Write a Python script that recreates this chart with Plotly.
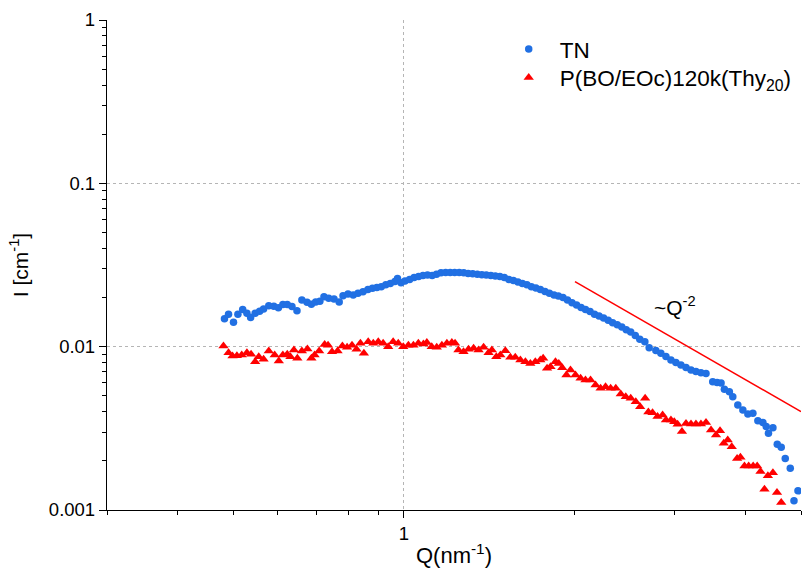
import math
import plotly.graph_objects as go

# ---- data ----
q_tn = [0.483, 0.491, 0.501, 0.510, 0.520, 0.529, 0.537, 0.547, 0.557, 0.566,
        0.578, 0.590, 0.601, 0.612, 0.623, 0.635, 0.648, 0.661, 0.675, 0.687,
        0.699, 0.711, 0.723, 0.737, 0.753, 0.769, 0.781, 0.797, 0.814, 0.830,
        0.847, 0.864, 0.880, 0.896, 0.912, 0.929, 0.946, 0.964, 0.974, 0.988,
        1.004, 1.023, 1.042, 1.061, 1.080, 1.100, 1.121, 1.141, 1.162, 1.184,
        1.206, 1.228, 1.251, 1.274, 1.297, 1.321, 1.346, 1.371, 1.396, 1.422,
        1.448, 1.475, 1.502, 1.530, 1.558, 1.587, 1.616, 1.646, 1.676, 1.707,
        1.738, 1.771, 1.803, 1.837, 1.870, 1.905, 1.940, 1.976, 2.013, 2.050,
        2.087, 2.126, 2.165, 2.205, 2.246, 2.288, 2.330, 2.374, 2.418, 2.462,
        2.507, 2.554, 2.601, 2.655, 2.702, 2.776, 2.833, 2.892, 2.951, 3.011,
        3.073, 3.137, 3.201, 3.266, 3.333, 3.402, 3.496, 3.558, 3.616, 3.665,
        3.740, 3.792, 3.870, 3.950, 4.031, 4.114, 4.198, 4.284, 4.342, 4.382,
        4.462, 4.541, 4.615, 4.691, 4.787, 4.860, 4.939]
i_tn = [0.0148, 0.0158, 0.0141, 0.0158, 0.0169, 0.0160, 0.0151, 0.0160, 0.0165, 0.0170,
        0.0178, 0.0177, 0.0173, 0.0181, 0.0181, 0.0176, 0.0166, 0.0193, 0.0187, 0.0182,
        0.0188, 0.0190, 0.0202, 0.0198, 0.0196, 0.0188, 0.0205, 0.0210, 0.0207, 0.0212,
        0.0217, 0.0224, 0.0228, 0.0230, 0.0233, 0.0239, 0.0244, 0.0251, 0.0261, 0.0246,
        0.0252, 0.0258, 0.0265, 0.0269, 0.0273, 0.0275, 0.0273, 0.0278, 0.0283, 0.0284,
        0.0284, 0.0284, 0.0284, 0.0283, 0.0281, 0.0280, 0.0278, 0.0276, 0.0275, 0.0273,
        0.0271, 0.0269, 0.0265, 0.0258, 0.0254, 0.0249, 0.0244, 0.0239, 0.0233, 0.0229,
        0.0224, 0.0218, 0.0212, 0.0207, 0.0204, 0.0200, 0.0193, 0.0186, 0.0180, 0.0174,
        0.0169, 0.0164, 0.0158, 0.0154, 0.0150, 0.0145, 0.0140, 0.0136, 0.0132, 0.0127,
        0.0123, 0.0117, 0.0111, 0.0107, 0.00986, 0.00947, 0.00910, 0.00870, 0.00829, 0.00800,
        0.00772, 0.00746, 0.00720, 0.00705, 0.00693, 0.00685, 0.00610, 0.00603, 0.00600, 0.00548,
        0.00530, 0.00494, 0.00440, 0.00410, 0.00387, 0.00391, 0.00352, 0.00343, 0.00324, 0.00295,
        0.00319, 0.00253, 0.00242, 0.00207, 0.00180, 0.00114, 0.00131]

q_pbo = [0.481, 0.491, 0.499, 0.508, 0.518, 0.529, 0.538, 0.547, 0.555, 0.566,
         0.578, 0.592, 0.602, 0.612, 0.623, 0.631, 0.640, 0.649, 0.661, 0.676,
         0.687, 0.696, 0.709, 0.725, 0.735, 0.747, 0.764, 0.779, 0.794, 0.810,
         0.825, 0.838, 0.850, 0.865, 0.883, 0.901, 0.919, 0.938, 0.957, 0.977,
         0.997, 1.018, 1.039, 1.060, 1.082, 1.097, 1.119, 1.142, 1.166, 1.190,
         1.214, 1.230, 1.247, 1.273, 1.299, 1.326, 1.353, 1.381, 1.409, 1.428,
         1.454, 1.478, 1.508, 1.539, 1.570, 1.603, 1.636, 1.669, 1.703, 1.738,
         1.758, 1.786, 1.811, 1.848, 1.873, 1.899, 1.932, 1.964, 2.004, 2.046,
         2.087, 2.130, 2.174, 2.219, 2.264, 2.311, 2.360, 2.408, 2.457, 2.507,
         2.559, 2.605, 2.658, 2.693, 2.739, 2.795, 2.853, 2.892, 2.951, 2.991,
         3.032, 3.086, 3.137, 3.201, 3.266, 3.333, 3.402, 3.472, 3.543, 3.601,
         3.656, 3.715, 3.776, 3.859, 3.911, 3.976, 4.044, 4.119, 4.186, 4.243,
         4.312, 4.372, 4.462, 4.536, 4.615]
i_pbo = [0.0101, 0.00919, 0.00877, 0.00881, 0.00889, 0.00919, 0.00898, 0.00809, 0.00868, 0.00837,
         0.00941, 0.00889, 0.00817, 0.00889, 0.00898, 0.00868, 0.00954, 0.00849, 0.00941, 0.00968,
         0.00849, 0.00889, 0.00941, 0.0103, 0.0102, 0.00931, 0.00941, 0.0101, 0.00991, 0.0102,
         0.00964, 0.0105, 0.00910, 0.0107, 0.0105, 0.0107, 0.0105, 0.0100, 0.0107, 0.0105,
         0.0100, 0.0102, 0.0102, 0.0105, 0.0104, 0.0106, 0.0100, 0.00991, 0.0102, 0.0105,
         0.0106, 0.0105, 0.00954, 0.00931, 0.00964, 0.00978, 0.00954, 0.00991, 0.00919, 0.00954,
         0.00868, 0.00889, 0.00945, 0.00861, 0.00861, 0.00829, 0.00809, 0.00790, 0.00809, 0.00829,
         0.00849, 0.00737, 0.00754, 0.00809, 0.00790, 0.00743, 0.00671, 0.00720, 0.00671, 0.00641,
         0.00625, 0.00625, 0.00583, 0.00556, 0.00569, 0.00556, 0.00556, 0.00513, 0.00494, 0.00483,
         0.00460, 0.00429, 0.00483, 0.00398, 0.00394, 0.00373, 0.00382, 0.00356, 0.00356, 0.00347,
         0.00335, 0.00302, 0.00339, 0.00336, 0.00336, 0.00336, 0.00343, 0.00309, 0.00288, 0.00306,
         0.00256, 0.00268, 0.00244, 0.00207, 0.00210, 0.00186, 0.00186, 0.00186, 0.00186, 0.00172,
         0.00134, 0.00162, 0.00169, 0.00128, 0.00111]

# guide line ~Q^-2
q_guide = [2.0, 5.0]
i_guide = [0.025, 0.004]

y_ticks = [0.001, 0.01, 0.1, 1]
y_ticktext = ["0.001", "0.01", "0.1", "1"]
x_ticks = [1]
x_ticktext = ["1"]

x_minor = [0.3, 0.4, 0.5, 0.6, 0.7, 0.8, 0.9, 2, 3, 4, 5]
y_minor = [k * 10 ** d for d in (-3, -2, -1) for k in range(2, 10)]

BLUE = "#2170E3"
RED = "#FF0000"
FONT = "Liberation Sans, Arial, sans-serif"

fig = go.Figure()
fig.add_trace(go.Scatter(x=q_tn, y=i_tn, mode="markers", name="TN", legend="legend",
                         marker=dict(symbol="circle", size=7.5, color=BLUE)))
fig.add_trace(go.Scatter(x=q_pbo, y=i_pbo, mode="markers", legend="legend2",
                         name="P(BO/EOc)120k(Thy<sub>20</sub>)",
                         marker=dict(symbol="triangle-up", size=9, color=RED)))
fig.add_trace(go.Scatter(x=q_guide, y=i_guide, mode="lines", showlegend=False,
                         line=dict(color=RED, width=1.5)))

fig.add_annotation(x=math.log10(3.0), y=math.log10(0.0177), xref="x", yref="y",
                   text="~Q<sup>-2</sup>", showarrow=False,
                   font=dict(family=FONT, size=21, color="black"))

axis_common = dict(
    showline=True, linecolor="black", linewidth=1.3, mirror=False,
    ticks="outside", ticklen=7, tickwidth=1.3, tickcolor="black",
    showgrid=True, gridcolor="#b5b5b5", gridwidth=1, griddash="3px,3px",
    zeroline=False, tickfont=dict(family=FONT, size=18.5, color="black"),
)

fig.update_xaxes(type="log", range=[math.log10(0.3), math.log10(5)],
                 tickmode="array", tickvals=x_ticks, ticktext=x_ticktext,
                 minor=dict(tickmode="array", tickvals=x_minor, ticks="outside",
                            ticklen=4, tickwidth=1.3, tickcolor="black", showgrid=False),
                 title=dict(text="Q(nm<sup>-1</sup>)", font=dict(family=FONT, size=22, color="black"),
                            standoff=4),
                 **axis_common)
fig.update_yaxes(type="log", range=[-3, 0],
                 tickmode="array", tickvals=y_ticks, ticktext=y_ticktext,
                 minor=dict(tickmode="array", tickvals=y_minor, ticks="outside",
                            ticklen=4, tickwidth=1.3, tickcolor="black", showgrid=False),
                 title=dict(text="I [cm<sup>-1</sup>]", font=dict(family=FONT, size=21, color="black"),
                            standoff=14),
                 **axis_common)

legend_style = dict(xanchor="left", yanchor="top", bgcolor="rgba(0,0,0,0)",
                    font=dict(family=FONT, size=22.5, color="black"), itemwidth=52)

fig.update_layout(
    width=803, height=583,
    margin=dict(l=107, r=2, t=20, b=73),
    paper_bgcolor="white", plot_bgcolor="white",
    font=dict(family=FONT, color="black"),
    legend=dict(x=0.563, y=0.984, **legend_style),
    legend2=dict(x=0.563, y=0.926, **legend_style),
)

fig.write_html("out.html")
